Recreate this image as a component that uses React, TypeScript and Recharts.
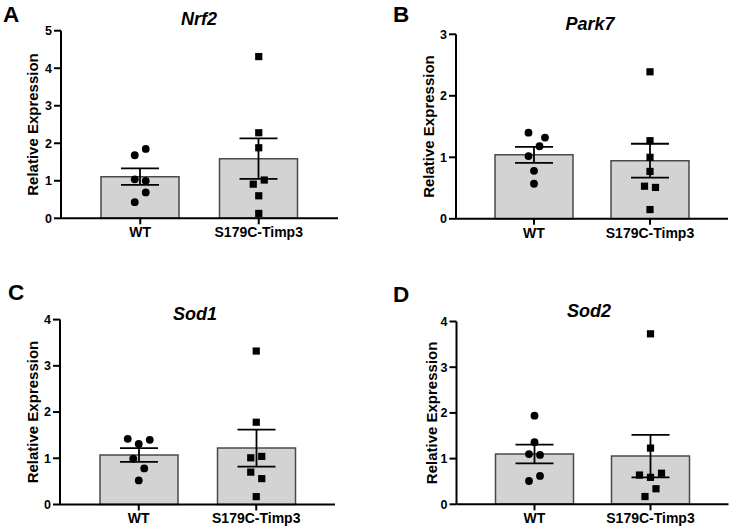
import React from 'react';
import { ComposedChart, Bar, Scatter, XAxis, YAxis, ErrorBar } from 'recharts';

const FONT = '"Liberation Sans", Arial, Helvetica, sans-serif';
const SLOT_STEP = 5.5;

const groups = ['WT', 'S179C-Timp3'];

// Panel A: Nrf2
const nrf2Means = [1.11, 1.59];
const nrf2Sems = [0.22, 0.54];
const nrf2WT = [1.85, 1.68, 1.04, 1.0, 0.69, 0.43];
const nrf2WTSlot = [1, -1, -1, 1, 1, -1];
const nrf2Mut = [4.31, 2.28, 1.88, 1.02, 0.91, 0.6, 0.13];
const nrf2MutSlot = [0, 0, 0, 1, -1, 0, 0];
const nrf2Ticks = [0, 1, 2, 3, 4, 5];

// Panel B: Park7
const park7Means = [1.04, 0.945];
const park7Sems = [0.13, 0.275];
const park7WT = [1.4, 1.32, 1.18, 1.02, 0.78, 0.57];
const park7WTSlot = [-1, 2, 1, -1, 0, 0];
const park7Mut = [2.39, 1.27, 1.0, 0.77, 0.53, 0.51, 0.15];
const park7MutSlot = [0, 0, 0, 0, -1, 1, 0];
const park7Ticks = [0, 1, 2, 3];

// Panel C: Sod1
const sod1Means = [1.07, 1.22];
const sod1Sems = [0.15, 0.4];
const sod1WT = [1.42, 1.4, 1.31, 0.99, 0.78, 0.52];
const sod1WTSlot = [-2, 2, 0, -1, 1, 0];
const sod1Mut = [3.32, 1.78, 1.01, 1.04, 0.7, 0.56, 0.17];
const sod1MutSlot = [0, 0, -1, 1, -1, 1, 0];
const sod1Ticks = [0, 1, 2, 3, 4];

// Panel D: Sod2
const sod2Means = [1.1, 1.055];
const sod2Sems = [0.205, 0.465];
const sod2WT = [1.94, 1.36, 1.1, 1.08, 0.62, 0.51];
const sod2WTSlot = [0, 0, -1, 1, 1, -1];
const sod2Mut = [3.73, 1.23, 0.64, 0.68, 0.59, 0.34, 0.17];
const sod2MutSlot = [0, 0, -2, 2, 0, 1, -1];
const sod2Ticks = [0, 1, 2, 3, 4];

type PanelProps = {
  left: number;
  top: number;
  width: number;
  height: number;
  yAxisWidth: number;
  margin: { top: number; right: number; bottom: number; left: number };
  labelOffset: number;
  means: number[];
  sems: number[];
  wt: number[];
  wtSlot: number[];
  mut: number[];
  mutSlot: number[];
  ticks: number[];
};

const CircleShape = (props: any) => {
  const { cx, cy, payload } = props;
  if (cx == null || cy == null) return null;
  return <circle cx={cx + payload.slot * SLOT_STEP} cy={cy} r={3.9} fill="#000" />;
};

const SquareShape = (props: any) => {
  const { cx, cy, payload } = props;
  if (cx == null || cy == null) return null;
  const s = 7.2;
  return <rect x={cx + payload.slot * SLOT_STEP - s / 2} y={cy - s / 2} width={s} height={s} fill="#000" />;
};

const Panel = (p: PanelProps) => {
  const barData = groups.map((g, i) => ({ group: g, mean: p.means[i], sem: p.sems[i] }));
  const wtData = p.wt.map((v, i) => ({ group: groups[0], value: v, slot: p.wtSlot[i] }));
  const mutData = p.mut.map((v, i) => ({ group: groups[1], value: v, slot: p.mutSlot[i] }));
  const yMax = p.ticks[p.ticks.length - 1];
  const off = p.labelOffset;
  return (
    <div style={{ position: 'absolute', left: p.left, top: p.top }}>
      <ComposedChart width={p.width} height={p.height} data={barData} margin={p.margin}>
        <XAxis
          dataKey="group"
          type="category"
          allowDuplicatedCategory={false}
          padding={{ left: 20, right: 20 }}
          height={24}
          interval={0}
          tickSize={6}
          tickMargin={3}
          axisLine={{ stroke: '#000', strokeWidth: 2 }}
          tickLine={{ stroke: '#000', strokeWidth: 2 }}
          tick={{ fontSize: 14, fontWeight: 700, fill: '#000', fontFamily: FONT }}
        />
        <YAxis
          type="number"
          domain={[0, yMax]}
          ticks={p.ticks}
          interval={0}
          width={p.yAxisWidth}
          tickSize={7}
          tickMargin={2}
          axisLine={{ stroke: '#000', strokeWidth: 2 }}
          tickLine={{ stroke: '#000', strokeWidth: 2 }}
          tick={{ fontSize: 12.5, fontWeight: 700, fill: '#000', fontFamily: FONT }}
          label={{
            value: 'Relative Expression',
            content: (lp: any) => {
              const vb = lp.viewBox || {};
              const x = (vb.x || 0) + (vb.width || 0) + off;
              const y = (vb.y || 0) + (vb.height || 0) / 2;
              return (
                <text
                  x={x}
                  y={y}
                  transform={`rotate(-90 ${x} ${y})`}
                  textAnchor="middle"
                  dominantBaseline="central"
                  fontSize={15}
                  fontWeight={700}
                  fontFamily={FONT}
                  fill="#000"
                >
                  Relative Expression
                </text>
              );
            },
          }}
        />
        <Bar
          dataKey="mean"
          barSize={78}
          fill="#d3d3d3"
          stroke="#4a4a4a"
          strokeWidth={1.5}
          isAnimationActive={false}
        >
          <ErrorBar dataKey="sem" width={19} stroke="#000" strokeWidth={1.8} direction="y" />
        </Bar>
        <Scatter data={wtData} dataKey="value" shape={CircleShape} isAnimationActive={false} />
        <Scatter data={mutData} dataKey="value" shape={SquareShape} isAnimationActive={false} />
      </ComposedChart>
    </div>
  );
};

export default function App() {
  return (
    <div style={{ position: 'absolute', left: 0, top: 0, width: 733, height: 531, background: '#fff' }}>
      <Panel
        left={0}
        top={0}
        width={366}
        height={250}
        yAxisWidth={61}
        margin={{ top: 30.7, right: 28, bottom: 7.7, left: 0 }}
        labelOffset={-29}
        means={nrf2Means}
        sems={nrf2Sems}
        wt={nrf2WT}
        wtSlot={nrf2WTSlot}
        mut={nrf2Mut}
        mutSlot={nrf2MutSlot}
        ticks={nrf2Ticks}
      />
      <Panel
        left={366}
        top={0}
        width={367}
        height={250}
        yAxisWidth={90}
        margin={{ top: 34.3, right: 5, bottom: 7.2, left: 0 }}
        labelOffset={-27}
        means={park7Means}
        sems={park7Sems}
        wt={park7WT}
        wtSlot={park7WTSlot}
        mut={park7Mut}
        mutSlot={park7MutSlot}
        ticks={park7Ticks}
      />
      <Panel
        left={0}
        top={260}
        width={366}
        height={271}
        yAxisWidth={60}
        margin={{ top: 59.6, right: 31, bottom: 2.5, left: 0 }}
        labelOffset={-27}
        means={sod1Means}
        sems={sod1Sems}
        wt={sod1WT}
        wtSlot={sod1WTSlot}
        mut={sod1Mut}
        mutSlot={sod1MutSlot}
        ticks={sod1Ticks}
      />
      <Panel
        left={366}
        top={260}
        width={367}
        height={271}
        yAxisWidth={90.5}
        margin={{ top: 61.5, right: 4.5, bottom: 2.7, left: 0 }}
        labelOffset={-25}
        means={sod2Means}
        sems={sod2Sems}
        wt={sod2WT}
        wtSlot={sod2WTSlot}
        mut={sod2Mut}
        mutSlot={sod2MutSlot}
        ticks={sod2Ticks}
      />
      <svg
        width={733}
        height={531}
        style={{ position: 'absolute', left: 0, top: 0, pointerEvents: 'none' }}
      >
        <g fontFamily={FONT} fontWeight={700} fill="#000">
          <text x={3} y={21.5} fontSize={22.5}>A</text>
          <text x={393} y={21.5} fontSize={22.5}>B</text>
          <text x={8} y={299.5} fontSize={22.5}>C</text>
          <text x={393} y={302} fontSize={22.5}>D</text>
          <text x={199} y={25} fontSize={18} fontStyle="italic" textAnchor="middle">Nrf2</text>
          <text x={590} y={30} fontSize={18} fontStyle="italic" textAnchor="middle">Park7</text>
          <text x={195} y={320} fontSize={18} fontStyle="italic" textAnchor="middle">Sod1</text>
          <text x={589} y={317} fontSize={18} fontStyle="italic" textAnchor="middle">Sod2</text>
        </g>
      </svg>
    </div>
  );
}
